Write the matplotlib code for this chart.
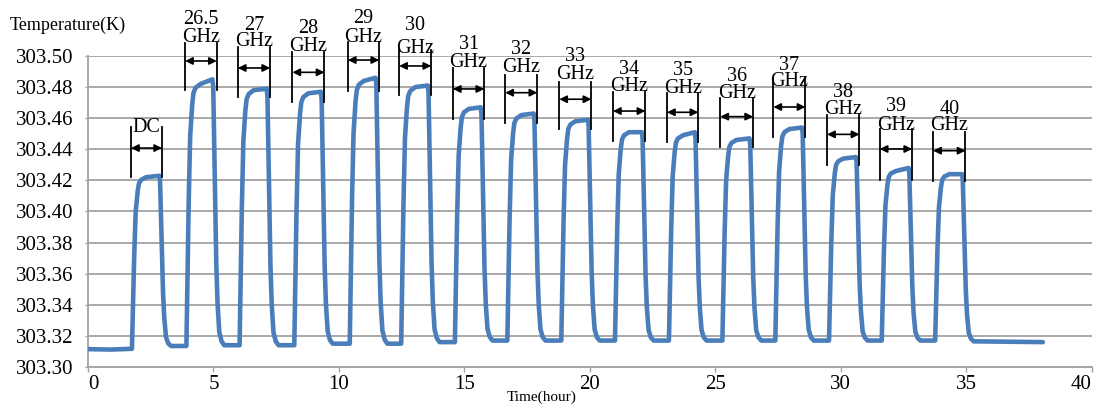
import matplotlib
matplotlib.use("Agg")
import matplotlib.pyplot as plt

# ---------------- data ----------------
time_h = [
    0.00, 0.90,
    1.75, 1.84, 1.90, 1.98, 2.03, 2.11, 2.31, 2.84, 2.87, 2.905, 2.946, 2.99, 3.04, 3.11, 3.20, 3.31,
    3.92, 4.01, 4.07, 4.15, 4.20, 4.28, 4.48, 4.96, 4.99, 5.025, 5.066, 5.11, 5.16, 5.23, 5.32, 5.43,
    6.04, 6.13, 6.19, 6.27, 6.32, 6.40, 6.60, 7.12, 7.15, 7.185, 7.226, 7.27, 7.32, 7.39, 7.48, 7.59,
    8.22, 8.31, 8.37, 8.45, 8.50, 8.58, 8.78, 9.28, 9.31, 9.345, 9.386, 9.43, 9.48, 9.55, 9.64, 9.75,
    10.43, 10.52, 10.58, 10.66, 10.71, 10.79, 10.99, 11.46, 11.49, 11.525, 11.566, 11.61, 11.66, 11.73, 11.82, 11.93,
    12.48, 12.57, 12.63, 12.71, 12.76, 12.84, 13.04, 13.54, 13.57, 13.605, 13.646, 13.69, 13.74, 13.81, 13.90, 14.01,
    14.62, 14.71, 14.77, 14.85, 14.90, 14.98, 15.18, 15.65, 15.68, 15.715, 15.756, 15.80, 15.85, 15.92, 16.01, 16.12,
    16.71, 16.80, 16.86, 16.94, 16.99, 17.07, 17.27, 17.76, 17.79, 17.825, 17.866, 17.91, 17.96, 18.03, 18.12, 18.23,
    18.86, 18.95, 19.01, 19.09, 19.14, 19.22, 19.42, 19.92, 19.95, 19.985, 20.026, 20.07, 20.12, 20.19, 20.28, 20.39,
    21.00, 21.09, 21.15, 21.23, 21.28, 21.36, 21.56, 22.07, 22.10, 22.135, 22.176, 22.22, 22.27, 22.34, 22.43, 22.54,
    23.15, 23.24, 23.30, 23.38, 23.43, 23.51, 23.71, 24.18, 24.21, 24.245, 24.286, 24.33, 24.38, 24.45, 24.54, 24.65,
    25.28, 25.37, 25.43, 25.51, 25.56, 25.64, 25.84, 26.36, 26.39, 26.425, 26.466, 26.51, 26.56, 26.63, 26.72, 26.83,
    27.39, 27.48, 27.54, 27.62, 27.67, 27.75, 27.95, 28.45, 28.48, 28.515, 28.556, 28.60, 28.65, 28.72, 28.81, 28.92,
    29.53, 29.62, 29.68, 29.76, 29.81, 29.89, 30.09, 30.60, 30.63, 30.665, 30.706, 30.75, 30.80, 30.87, 30.96, 31.07,
    31.63, 31.72, 31.78, 31.86, 31.91, 31.99, 32.19, 32.70, 32.73, 32.765, 32.806, 32.85, 32.90, 32.97, 33.06, 33.17,
    33.76, 33.85, 33.91, 33.99, 34.04, 34.12, 34.32, 34.83, 34.86, 34.895, 34.936, 34.98, 35.03, 35.10, 35.19, 35.30,
    36.50, 38.05,
]

temp_k = [
    303.3115, 303.3112,
    303.3117, 303.3712, 303.3999, 303.4132, 303.4181, 303.4203, 303.4220, 303.4230, 303.4197, 303.3989, 303.3726, 303.3474, 303.3310, 303.3190, 303.3151, 303.3135,
    303.3135, 303.4045, 303.4483, 303.4685, 303.4761, 303.4795, 303.4820, 303.4850, 303.4799, 303.4474, 303.4063, 303.3670, 303.3414, 303.3226, 303.3166, 303.3140,
    303.3140, 303.4026, 303.4452, 303.4649, 303.4723, 303.4755, 303.4780, 303.4790, 303.4741, 303.4427, 303.4031, 303.3652, 303.3404, 303.3223, 303.3165, 303.3140,
    303.3140, 303.4015, 303.4436, 303.4630, 303.4703, 303.4736, 303.4760, 303.4770, 303.4721, 303.4414, 303.4025, 303.3652, 303.3409, 303.3231, 303.3174, 303.3150,
    303.3150, 303.4063, 303.4502, 303.4705, 303.4781, 303.4815, 303.4840, 303.4860, 303.4809, 303.4484, 303.4073, 303.3680, 303.3424, 303.3236, 303.3176, 303.3150,
    303.3150, 303.4041, 303.4470, 303.4668, 303.4742, 303.4775, 303.4800, 303.4810, 303.4761, 303.4447, 303.4051, 303.3672, 303.3424, 303.3243, 303.3185, 303.3160,
    303.3160, 303.3970, 303.4360, 303.4540, 303.4608, 303.4638, 303.4660, 303.4670, 303.4625, 303.4340, 303.3980, 303.3635, 303.3410, 303.3245, 303.3193, 303.3170,
    303.3170, 303.3953, 303.4330, 303.4504, 303.4569, 303.4598, 303.4620, 303.4630, 303.4586, 303.4309, 303.3958, 303.3623, 303.3404, 303.3243, 303.3192, 303.3170,
    303.3170, 303.3931, 303.4298, 303.4467, 303.4531, 303.4559, 303.4580, 303.4590, 303.4547, 303.4278, 303.3937, 303.3610, 303.3397, 303.3241, 303.3191, 303.3170,
    303.3170, 303.3894, 303.4242, 303.4403, 303.4463, 303.4490, 303.4510, 303.4510, 303.4470, 303.4215, 303.3894, 303.3585, 303.3384, 303.3237, 303.3190, 303.3170,
    303.3170, 303.3883, 303.4226, 303.4384, 303.4444, 303.4470, 303.4490, 303.4510, 303.4470, 303.4215, 303.3894, 303.3585, 303.3384, 303.3237, 303.3190, 303.3170,
    303.3170, 303.3867, 303.4202, 303.4357, 303.4415, 303.4441, 303.4460, 303.4470, 303.4431, 303.4184, 303.3872, 303.3573, 303.3378, 303.3235, 303.3190, 303.3170,
    303.3170, 303.3904, 303.4258, 303.4421, 303.4482, 303.4510, 303.4530, 303.4540, 303.4499, 303.4239, 303.3910, 303.3595, 303.3389, 303.3239, 303.3191, 303.3170,
    303.3170, 303.3802, 303.4106, 303.4246, 303.4299, 303.4322, 303.4340, 303.4350, 303.4315, 303.4090, 303.3807, 303.3536, 303.3359, 303.3229, 303.3188, 303.3170,
    303.3170, 303.3759, 303.4042, 303.4173, 303.4222, 303.4244, 303.4260, 303.4280, 303.4247, 303.4036, 303.3769, 303.3514, 303.3348, 303.3226, 303.3187, 303.3170,
    303.3170, 303.3748, 303.4026, 303.4154, 303.4203, 303.4224, 303.4240, 303.4240, 303.4208, 303.4004, 303.3746, 303.3498, 303.3337, 303.3219, 303.3181, 303.3165,
    303.3163, 303.3160,
]

# annotation labels and bracket extents (time in hours, temperature in K)
band_labels = ["DC", "26.5", "27", "28", "29", "30", "31", "32", "33",
               "34", "35", "36", "37", "38", "39", "40"]
band_left = [1.714, 3.868, 5.969, 8.146, 10.355, 12.400, 14.541, 16.627, 18.780,
             20.921, 23.074, 25.199, 27.313, 29.453, 31.551, 33.680]
band_right = [2.951, 5.131, 7.257, 9.422, 11.603, 13.676, 15.789, 17.903, 20.056,
              22.209, 24.322, 26.503, 28.589, 30.742, 32.843, 34.968]
band_top = [303.4543, 303.5084, 303.5058, 303.5026, 303.5090, 303.5039, 303.4923, 303.4878,
            303.4833, 303.4770, 303.4760, 303.4730, 303.4859, 303.4621, 303.4529, 303.4513]
band_bottom = [303.4222, 303.4781, 303.4736, 303.4704, 303.4775, 303.4749, 303.4593, 303.4571,
               303.4529, 303.4453, 303.4449, 303.4417, 303.4481, 303.4299, 303.4203, 303.4198]
band_arrow = [303.4408, 303.4968, 303.4923, 303.4895, 303.4974, 303.4936, 303.4788, 303.4764,
              303.4722, 303.4646, 303.4638, 303.4610, 303.4672, 303.4496, 303.4402, 303.4391]
label_num_y = [303.4540, 303.5232, 303.5199, 303.5174, 303.5238, 303.5193, 303.5077, 303.5039,
               303.4994, 303.4916, 303.4904, 303.4865, 303.4942, 303.4768, 303.4672, 303.4659]
label_ghz_y = [None, 303.5122, 303.5090, 303.5058, 303.5122, 303.5045, 303.4961, 303.4929,
               303.4878, 303.4807, 303.4788, 303.4762, 303.4833, 303.4653, 303.4556, 303.4550]

x_ticks = [0, 5, 10, 15, 20, 25, 30, 35, 40]
y_ticks = [303.30, 303.32, 303.34, 303.36, 303.38, 303.40, 303.42, 303.44, 303.46, 303.48, 303.50]

# ---------------- drawing ----------------
SERIF = "Liberation Serif"
GRID = "#a3a3a3"
BLUE = "#4a7ebb"

fig = plt.figure(figsize=(10.99, 4.04), dpi=100)
ax = fig.add_axes([0.0801, 0.0916, 0.9133, 0.7698])

ax.set_xlim(0, 40)
ax.set_ylim(303.30, 303.50)
ax.set_xticks(x_ticks)
ax.set_yticks(y_ticks)
ax.set_xticklabels([str(v) for v in x_ticks], fontfamily=SERIF, fontsize=15)
ax.set_yticklabels([f"{v:.2f}" for v in y_ticks], fontfamily=SERIF, fontsize=15)

# the end tick labels sit inside the axis ends, as in the reference
xlabels = ax.get_xticklabels()
xlabels[0].set_horizontalalignment("left")
xlabels[-1].set_horizontalalignment("right")

ax.yaxis.grid(True, color=GRID, lw=1.3)
ax.xaxis.grid(False)
ax.set_axisbelow(True)
for s in ("top", "right"):
    ax.spines[s].set_visible(False)
for s in ("left", "bottom"):
    ax.spines[s].set_color(GRID)
    ax.spines[s].set_linewidth(1.3)
ax.tick_params(axis="x", direction="out", length=3.6, width=1.0, color=GRID, pad=2)
ax.tick_params(axis="y", direction="out", length=2.5, width=1.0, color=GRID, pad=8)

ax.plot(time_h, temp_k, color=BLUE, lw=3.3, solid_joinstyle="round",
        solid_capstyle="round", zorder=3)

for i, lab in enumerate(band_labels):
    L, R = band_left[i], band_right[i]
    for xx in (L, R):
        ax.plot([xx, xx], [band_bottom[i], band_top[i]], color="black", lw=1.3,
                clip_on=False, zorder=4)
    ax.annotate("", xy=(L, band_arrow[i]), xytext=(R, band_arrow[i]),
                arrowprops=dict(arrowstyle="<|-|>", color="black", lw=1.2,
                                shrinkA=0, shrinkB=0, mutation_scale=11),
                annotation_clip=False, zorder=4)
    cx = (L + R) / 2
    ax.text(cx, label_num_y[i], lab, ha="center", va="center", fontfamily=SERIF,
            fontsize=14.5, clip_on=False, zorder=5)
    if label_ghz_y[i] is not None:
        ax.text(cx, label_ghz_y[i], "GHz", ha="center", va="center", fontfamily=SERIF,
                fontsize=14.5, clip_on=False, zorder=5)

fig.text(10 / 1099, 0.938, "Temperature(K)", ha="left", va="center",
         fontfamily=SERIF, fontsize=13)
fig.text(0.493, 0.017, "Time(hour)", ha="center", va="center",
         fontfamily=SERIF, fontsize=11)

fig.savefig("out.png", dpi=100)
